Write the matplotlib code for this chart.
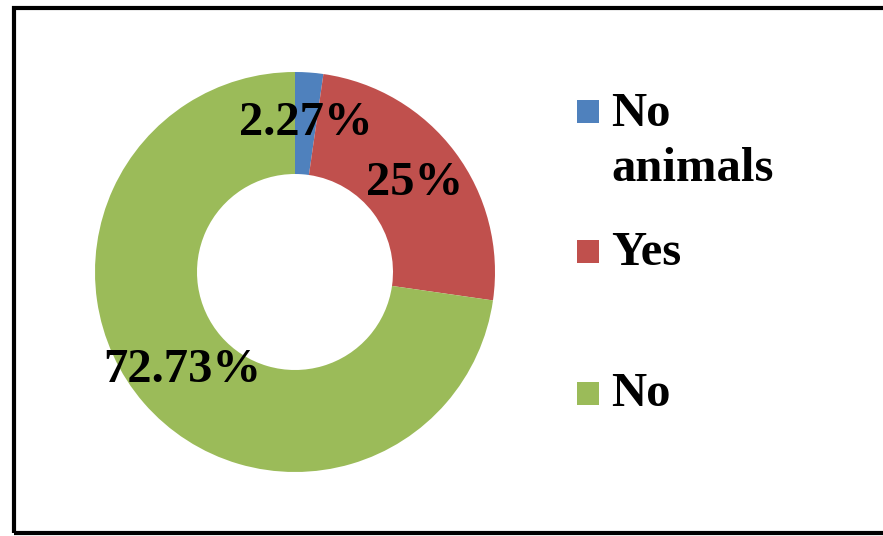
import numpy as np
import matplotlib
matplotlib.use("Agg")
import matplotlib.pyplot as plt
from matplotlib.patches import Rectangle

categories = ["No animals", "Yes", "No"]
values = [2.27, 25, 72.73]
value_labels = ["2.27%", "25%", "72.73%"]
legend_labels = ["No\nanimals", "Yes", "No"]
colors = ["#4F81BD", "#C0504D", "#9BBB59"]

plt.rcParams['font.family'] = ['Liberation Serif', 'DejaVu Serif']

W, H = 883, 536
fig = plt.figure(figsize=(W / 100, H / 100), dpi=100)
ax = fig.add_axes([0, 0, 1, 1])

# donut in pixel units
cx, cy = 295, H - 272
r_out, r_in = 200, 98
wedges, _ = ax.pie(values, colors=colors, startangle=90, counterclock=False,
                   center=(cx, cy), radius=r_out,
                   wedgeprops=dict(width=r_out - r_in, linewidth=0))
ax.set_xlim(0, W)
ax.set_ylim(0, H)
ax.set_aspect('auto')
ax.axis('off')

# value labels in the middle of the ring
r_mid = (r_out + r_in) / 2
for w, lab in zip(wedges, value_labels):
    ang = np.deg2rad((w.theta1 + w.theta2) / 2)
    ax.text(cx + r_mid * np.cos(ang), cy + r_mid * np.sin(ang), lab,
            ha='center', va='center', fontsize=35, fontweight='bold')

# legend entries: square marker next to the first line of each label
marker_tops = [100, 240, 382]
last_baselines = [181, 265, 406]
for lab, col, mt, yb in zip(legend_labels, colors, marker_tops, last_baselines):
    ax.add_patch(Rectangle((577, H - mt - 23), 22, 23, color=col, lw=0))
    ax.text(611, H - yb, lab, ha='left', va='baseline',
            fontsize=35, fontweight='bold', linespacing=1.32)

# outer frame
ax.add_patch(Rectangle((14, 3), W, H - 11, fill=False, edgecolor='black',
                       linewidth=3, clip_on=False))

fig.savefig("out.png", dpi=100)
